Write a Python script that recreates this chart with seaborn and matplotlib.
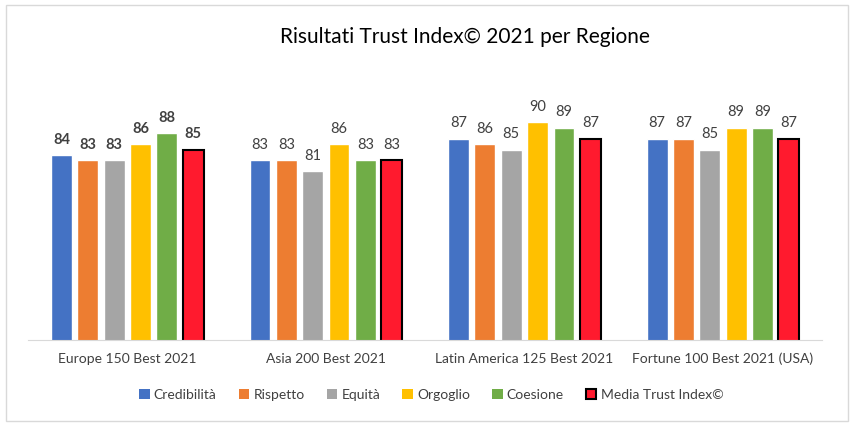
import pandas as pd
import matplotlib
matplotlib.use('Agg')
import matplotlib.pyplot as plt
import matplotlib.patches as mpatches
import seaborn as sns

# ---------------------------------------------------
# DATI
# ---------------------------------------------------
regioni = ['Europe 150 Best 2021', 'Asia 200 Best 2021',
           'Latin America 125 Best 2021', 'Fortune 100 Best 2021 (USA)']
dimensioni = ['Credibilità', 'Rispetto', 'Equità', 'Orgoglio', 'Coesione',
              'Media Trust Index©']
credibilita = [84, 83, 87, 87]
rispetto = [83, 83, 86, 87]
equita = [83, 81, 85, 85]
orgoglio = [86, 86, 90, 89]
coesione = [88, 83, 89, 89]
media = [85, 83, 87, 87]
colori = ['#4472C4', '#ED7D31', '#A5A5A5', '#FFC000', '#70AD47', '#FF1A2E']
# ---------------------------------------------------

sns.set_style('white')
plt.rcParams['font.family'] = ['Lato', 'DejaVu Sans']

serie = [credibilita, rispetto, equita, orgoglio, coesione, media]
righe = []
for nome, valori in zip(dimensioni, serie):
    for reg, v in zip(regioni, valori):
        righe.append({'regione': reg, 'dimensione': nome, 'valore': v})
df = pd.DataFrame(righe)

fig = plt.figure(figsize=(8.54, 4.30), dpi=100)
ax = fig.add_axes([0.0328, 0.209, 0.930, 0.633])

sns.barplot(data=df, x='regione', y='valore', hue='dimensione',
            hue_order=dimensioni, order=regioni, palette=colori,
            width=0.796, gap=0.21, ax=ax, legend=False, saturation=1)

ax.set_ylim(50, 100)
ax.set_xlim(-0.5, 3.5)

# bordo nero per la media
for p in ax.containers[-1]:
    p.set_edgecolor('black')
    p.set_linewidth(1.5)

# etichette: Europa in grassetto
for cont in ax.containers:
    testi = ax.bar_label(cont, fmt='%d', padding=6, fontsize=10.5, color='#404040')
    testi[0].set_fontweight('bold')

ax.set_xlabel('')
ax.set_ylabel('')
ax.set_yticks([])
ax.tick_params(axis='x', length=0, labelsize=10, labelcolor='#404040', pad=9)
for s in ['top', 'left', 'right']:
    ax.spines[s].set_visible(False)
ax.spines['bottom'].set_color('#D9D9D9')

fig.text(0.545, 0.915, 'Risultati Trust Index© 2021 per Regione',
         ha='center', va='center', fontsize=15, color='black')

handles = []
for nome, c in zip(dimensioni, colori):
    if nome == 'Media Trust Index©':
        handles.append(mpatches.Patch(facecolor=c, edgecolor='black', linewidth=1.5, label=nome))
    else:
        handles.append(mpatches.Patch(facecolor=c, edgecolor='none', label=nome))
fig.legend(handles=handles, loc='center', bbox_to_anchor=(0.505, 0.082), ncol=6,
           frameon=False, fontsize=10, handlelength=0.75, handleheight=0.75,
           handletextpad=0.3, columnspacing=1.6, labelcolor='#404040')

bordo = mpatches.Rectangle((0.007, 0.021), 0.986, 0.967, transform=fig.transFigure,
                           fill=False, edgecolor='#D9D9D9', linewidth=1)
fig.patches.append(bordo)

fig.savefig('out.png', dpi=100)
